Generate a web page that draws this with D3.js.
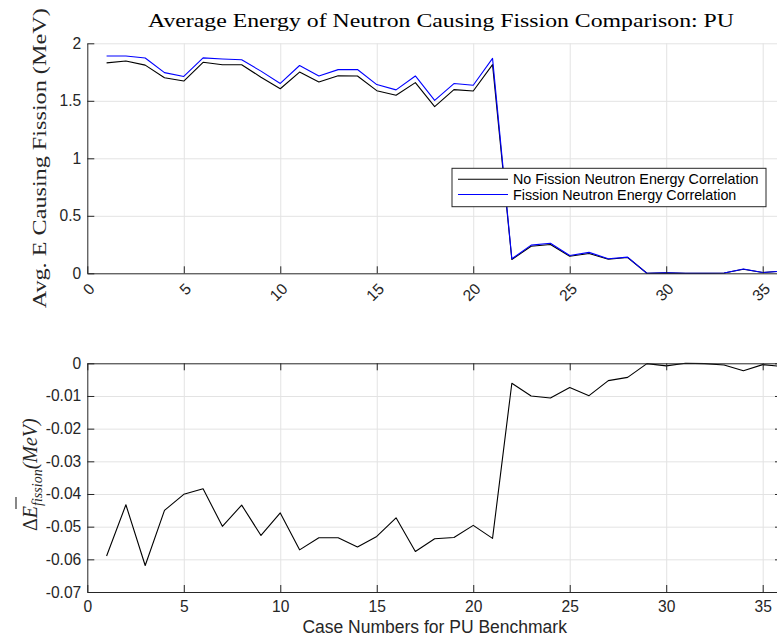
<!DOCTYPE html>
<html>
<head>
<meta charset="utf-8">
<script src="https://cdn.jsdelivr.net/npm/d3@7"></script>
<style>
  body { margin: 0; background: #fff; }
  svg { display: block; }
</style>
</head>
<body>
<script>
// Benchmark case numbers (x values)
const caseNumbers = d3.range(1, 37);

// Average energy of the neutron causing fission (MeV)
const noCorrelation = [
  1.830, 1.846, 1.810, 1.700, 1.672, 1.835, 1.814, 1.814, 1.705, 1.605,
  1.750, 1.663, 1.718, 1.716, 1.588, 1.548, 1.658, 1.449, 1.597, 1.585,
  1.815, 0.120, 0.235, 0.250, 0.148, 0.172, 0.122, 0.137, 0.000, 0.004,
  0.000, 0.000, 0.002, 0.035, 0.007, 0.018
];
const withCorrelation = [
  1.889, 1.889, 1.872, 1.745, 1.712, 1.873, 1.864, 1.857, 1.758, 1.651,
  1.807, 1.716, 1.771, 1.772, 1.641, 1.595, 1.716, 1.503, 1.650, 1.635,
  1.869, 0.126, 0.245, 0.261, 0.155, 0.182, 0.127, 0.141, 0.000, 0.005,
  0.000, 0.000, 0.0025, 0.037, 0.0074, 0.019
];

// Difference of the two averages (MeV)
const deltaEnergy = [
  -0.0590, -0.0433, -0.0619, -0.0450, -0.0401, -0.0384, -0.0499, -0.0434, -0.0527, -0.0458,
  -0.0571, -0.0534, -0.0534, -0.0562, -0.0530, -0.0473, -0.0576, -0.0537, -0.0533, -0.0496,
  -0.0536, -0.0061, -0.0100, -0.0106, -0.0074, -0.0099, -0.0053, -0.0043, -0.0001, -0.0008,
   0.0000, -0.0001, -0.0005, -0.0023, -0.0004, -0.0010
];

// Tick values and labels
const xTickValues = [0, 5, 10, 15, 20, 25, 30, 35];
const topYTickValues = [0, 0.5, 1, 1.5, 2];
const topYTickLabels = ["0", "0.5", "1", "1.5", "2"];
const bottomYTickValues = [0, -0.01, -0.02, -0.03, -0.04, -0.05, -0.06, -0.07];
const bottomYTickLabels = ["0", "-0.01", "-0.02", "-0.03", "-0.04", "-0.05", "-0.06", "-0.07"];

const seriesNames = ["No Fission Neutron Energy Correlation", "Fission Neutron Energy Correlation"];
const seriesColors = ["#000000", "#0000ff"];

const W = 777, H = 639;
const axisColor = "#262626";
const gridColor = "#e3e3e3";
const sans = "'Liberation Sans', Arial, Helvetica, sans-serif";
const serif = "'Liberation Serif', 'Times New Roman', serif";
const tickFont = 15.6;

const svg = d3.select("body").append("svg")
  .attr("width", W).attr("height", H)
  .attr("viewBox", `0 0 ${W} ${H}`);

const left = 87.3, right = 782;
const x = d3.scaleLinear().domain([0, 36]).range([left, right]);

const topPlot = { top: 43.3, bottom: 273.3 };
const botPlot = { top: 363.3, bottom: 592 };

const yTop = d3.scaleLinear().domain([0, 2]).range([topPlot.bottom, topPlot.top]);
const yBot = d3.scaleLinear().domain([-0.07, 0]).range([botPlot.bottom, botPlot.top]);

function styleAxis(g, labels) {
  g.selectAll(".domain").attr("stroke", axisColor).attr("stroke-width", 1);
  g.selectAll(".tick line").attr("stroke", axisColor).attr("stroke-width", 1);
  g.selectAll(".tick text")
    .attr("fill", axisColor)
    .style("font-family", sans)
    .style("font-size", tickFont + "px");
}

function grid(g, axis) {
  g.call(axis);
  g.select(".domain").remove();
  g.selectAll(".tick line").attr("stroke", gridColor).attr("stroke-width", 1);
  g.selectAll(".tick text").remove();
}

// ---------- Top panel ----------
const topG = svg.append("g");
const topH = topPlot.bottom - topPlot.top;
const plotW = right - left;

// grid
topG.append("g").attr("transform", `translate(0,${topPlot.bottom})`)
  .call(g => grid(g, d3.axisBottom(x).tickValues(xTickValues.filter(v => v > 0)).tickSize(-topH)));
topG.append("g").attr("transform", `translate(${left},0)`)
  .call(g => grid(g, d3.axisLeft(yTop).tickValues(topYTickValues.filter(v => v > 0)).tickSize(-plotW)));

// series lines
const topLine = (vals) => d3.line()
  .x((d, i) => x(caseNumbers[i]))
  .y(d => yTop(d))(vals);

[noCorrelation, withCorrelation].forEach((vals, k) => {
  topG.append("path")
    .attr("d", topLine(vals))
    .attr("fill", "none")
    .attr("stroke", seriesColors[k])
    .attr("stroke-width", 1.1)
    .attr("stroke-linejoin", "round");
});

// axes
topG.append("g").attr("transform", `translate(0,${topPlot.bottom})`)
  .call(d3.axisBottom(x).tickValues(xTickValues).tickSize(-7).tickSizeOuter(0).tickFormat(d3.format("d")))
  .call(g => styleAxis(g))
  .call(g => g.selectAll(".tick text")
    .attr("x", 0).attr("y", 0).attr("dy", "0.35em")
    .attr("text-anchor", "end")
    .attr("transform", "translate(4,12.6) rotate(-45)"));

topG.append("g").attr("transform", `translate(${left},0)`)
  .call(d3.axisLeft(yTop).tickValues(topYTickValues).tickSize(-7).tickSizeOuter(0).tickPadding(6)
    .tickFormat((d, i) => topYTickLabels[i]))
  .call(g => styleAxis(g));

// legend
const legend = topG.append("g").attr("transform", "translate(452,168.3)");
legend.append("rect")
  .attr("width", 314).attr("height", 38.4)
  .attr("fill", "#fff").attr("stroke", axisColor).attr("stroke-width", 1);
seriesNames.forEach((name, k) => {
  const cy = 11 + k * 15.2;
  legend.append("line")
    .attr("x1", 6).attr("x2", 56).attr("y1", cy).attr("y2", cy)
    .attr("stroke", seriesColors[k]).attr("stroke-width", 1.1);
  legend.append("text")
    .attr("x", 61).attr("y", cy).attr("dy", "0.36em")
    .attr("fill", "#000")
    .style("font-family", sans).style("font-size", "14.3px")
    .text(name);
});

// title
svg.append("text")
  .attr("x", 441).attr("y", 26.5)
  .attr("text-anchor", "middle")
  .attr("fill", "#000")
  .attr("textLength", 586).attr("lengthAdjust", "spacingAndGlyphs")
  .style("font-family", serif).style("font-size", "19.5px")
  .text("Average Energy of Neutron Causing Fission Comparison: PU");

// top y label
svg.append("text")
  .attr("transform", `translate(46,${(topPlot.top + topPlot.bottom) / 2}) rotate(-90)`)
  .attr("text-anchor", "middle")
  .attr("fill", axisColor)
  .attr("textLength", 300).attr("lengthAdjust", "spacingAndGlyphs")
  .style("font-family", serif).style("font-size", "19.5px")
  .text("Avg.  E Causing Fission (MeV)");

// ---------- Bottom panel ----------
const botG = svg.append("g");
const botH = botPlot.bottom - botPlot.top;

botG.append("g").attr("transform", `translate(0,${botPlot.bottom})`)
  .call(g => grid(g, d3.axisBottom(x).tickValues(xTickValues.filter(v => v > 0)).tickSize(-botH)));
botG.append("g").attr("transform", `translate(${left},0)`)
  .call(g => grid(g, d3.axisLeft(yBot).tickValues(bottomYTickValues.filter(v => v < 0 && v > -0.07)).tickSize(-plotW)));

botG.append("path")
  .attr("d", d3.line().x((d, i) => x(caseNumbers[i])).y(d => yBot(d))(deltaEnergy))
  .attr("fill", "none")
  .attr("stroke", "#000")
  .attr("stroke-width", 1.1)
  .attr("stroke-linejoin", "round");

// box with inward ticks on all four sides
botG.append("g").attr("transform", `translate(0,${botPlot.bottom})`)
  .call(d3.axisBottom(x).tickValues(xTickValues).tickSize(-7).tickSizeOuter(0).tickPadding(9)
    .tickFormat(d3.format("d")))
  .call(g => styleAxis(g));
botG.append("g").attr("transform", `translate(0,${botPlot.top})`)
  .call(d3.axisTop(x).tickValues(xTickValues).tickSize(-7).tickSizeOuter(0).tickFormat(""))
  .call(g => styleAxis(g));
botG.append("g").attr("transform", `translate(${left},0)`)
  .call(d3.axisLeft(yBot).tickValues(bottomYTickValues).tickSize(-7).tickSizeOuter(0).tickPadding(6)
    .tickFormat((d, i) => bottomYTickLabels[i]))
  .call(g => styleAxis(g));
botG.append("g").attr("transform", `translate(${right},0)`)
  .call(d3.axisRight(yBot).tickValues(bottomYTickValues).tickSize(-7).tickSizeOuter(0).tickFormat(""))
  .call(g => styleAxis(g));

// x label
svg.append("text")
  .attr("x", (left + right) / 2).attr("y", 632.5)
  .attr("text-anchor", "middle")
  .attr("fill", axisColor)
  .style("font-family", sans).style("font-size", "17.5px")
  .text("Case Numbers for PU Benchmark");

// bottom y label: ΔĒ_fission (MeV)
const dLabel = svg.append("text")
  .attr("transform", `translate(37,${(botPlot.top + botPlot.bottom) / 2 - 3}) rotate(-90)`)
  .attr("text-anchor", "middle")
  .attr("fill", axisColor)
  .style("font-family", serif).style("font-size", "20px");
dLabel.append("tspan").text("Δ");
dLabel.append("tspan").style("font-style", "italic").text("E");
dLabel.append("tspan").style("font-style", "italic").style("font-size", "14px").attr("dy", 5).text("fission");
dLabel.append("tspan").style("font-style", "italic").attr("dy", -5).text("(MeV)");

const node = dLabel.node();
const eEnd = node.getEndPositionOfChar(1);
svg.append("line")
  .attr("transform", `translate(37,${(botPlot.top + botPlot.bottom) / 2 - 3}) rotate(-90)`)
  .attr("x1", eEnd.x - 3).attr("x2", eEnd.x + 9)
  .attr("y1", -21).attr("y2", -21)
  .attr("stroke", axisColor).attr("stroke-width", 1.1);
</script>
</body>
</html>
